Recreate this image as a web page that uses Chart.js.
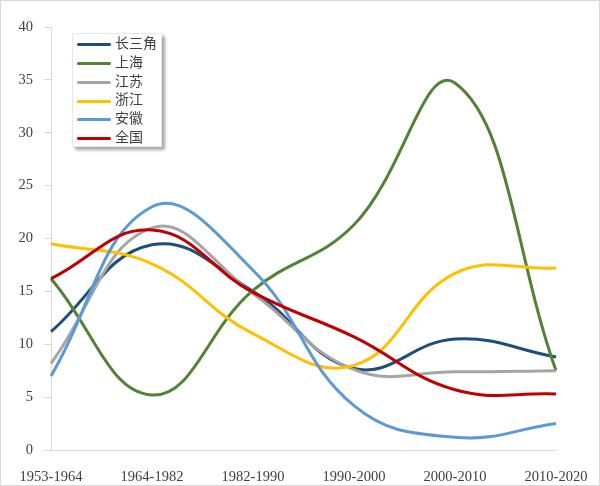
<!DOCTYPE html>
<html>
<head>
<meta charset="utf-8">
<script src="https://cdn.jsdelivr.net/npm/chart.js@4"></script>
<style>
  html, body { margin: 0; padding: 0; background: #fff; }
  #wrap { position: relative; width: 600px; height: 486px; }
  #legend {
    position: absolute; left: 72px; top: 33px; width: 88px; height: 112px;
    background: #fff; border: 1px solid #e8e8e8;
    box-shadow: 3px 3px 3px rgba(0,0,0,0.35);
    font-family: "Liberation Serif", "Noto Sans CJK SC", serif; font-size: 14px; color: #404040;
  }
  .item { position: absolute; left: 4px; height: 18px; line-height: 18px; white-space: nowrap; }
  .item span.ln { display: inline-block; width: 34px; height: 3px; border-radius: 2px; vertical-align: middle; margin-right: 4px; }
</style>
</head>
<body>
<div id="wrap">
  <canvas id="c" width="600" height="486"></canvas>
  <div id="legend"></div>
</div>
<script>
const periods = ["1953-1964", "1964-1982", "1982-1990", "1990-2000", "2000-2010", "2010-2020"];
const regions = ["长三角", "上海", "江苏", "浙江", "安徽", "全国"];
const colors = ["#1f4e79", "#538135", "#a5a5a5", "#ffc000", "#5b9bd5", "#c00000"];

const yrd      = [11.2, 19.4, 15.0, 7.7, 10.5, 8.8];
const shanghai = [16.2, 5.2, 15.1, 21.3, 34.7, 7.5];
const jiangsu  = [8.2, 21.0, 14.8, 7.6, 7.4, 7.5];
const zhejiang = [19.5, 17.6, 11.0, 8.0, 16.7, 17.2];
const anhui    = [7.0, 23.0, 17.0, 4.2, 1.2, 2.5];
const china    = [16.2, 20.8, 14.9, 10.7, 5.7, 5.3];
const series = [yrd, shanghai, jiangsu, zhejiang, anhui, china];

const yTicks = [0, 5, 10, 15, 20, 25, 30, 35, 40];

const serif = "'Liberation Serif', 'Times New Roman', serif";

const frame = {
  id: "frame",
  beforeDraw(chart) {
    const ctx = chart.ctx;
    ctx.save();
    ctx.fillStyle = "#fff";
    ctx.fillRect(0, 0, chart.width, chart.height);
    ctx.strokeStyle = "#d9d9d9";
    ctx.lineWidth = 1;
    ctx.strokeRect(0.5, 0.5, chart.width - 1, chart.height - 1);
    ctx.restore();
  }
};

new Chart(document.getElementById("c"), {
  type: "line",
  data: {
    labels: periods,
    datasets: series.map((d, i) => ({
      label: regions[i],
      data: d,
      borderColor: colors[i],
      backgroundColor: colors[i],
      borderWidth: 3,
      pointRadius: 0,
      tension: 0.42,
      fill: false,
      order: series.length - i
    }))
  },
  options: {
    responsive: false,
    animation: false,
    layout: { padding: { top: 27, right: 44, left: 0, bottom: 0 } },
    plugins: {
      legend: { display: false },
      tooltip: { enabled: false }
    },
    scales: {
      x: {
        offset: false,
        grid: { display: false },
        border: { color: "#d9d9d9", width: 1 },
        ticks: { color: "#404040", padding: 10, maxRotation: 0, autoSkip: false, font: { family: serif, size: 14.5 } },
        afterFit: s => { s.height = 36; }
      },
      y: {
        min: 0,
        max: 40,
        afterBuildTicks: s => { s.ticks = yTicks.map(v => ({ value: v })); },
        grid: { drawOnChartArea: false, tickLength: 7, color: "#d9d9d9" },
        border: { color: "#d9d9d9", width: 1 },
        ticks: { color: "#404040", padding: 11, font: { family: serif, size: 14.5 } },
        afterFit: s => { s.width = 51; }
      }
    }
  },
  plugins: [frame]
});

const legend = document.getElementById("legend");
regions.forEach((name, i) => {
  const row = document.createElement("div");
  row.className = "item";
  row.style.top = (1 + i * 18.8) + "px";
  row.innerHTML = '<span class="ln" style="background:' + colors[i] + '"></span>' + name;
  legend.appendChild(row);
});
</script>
</body>
</html>
